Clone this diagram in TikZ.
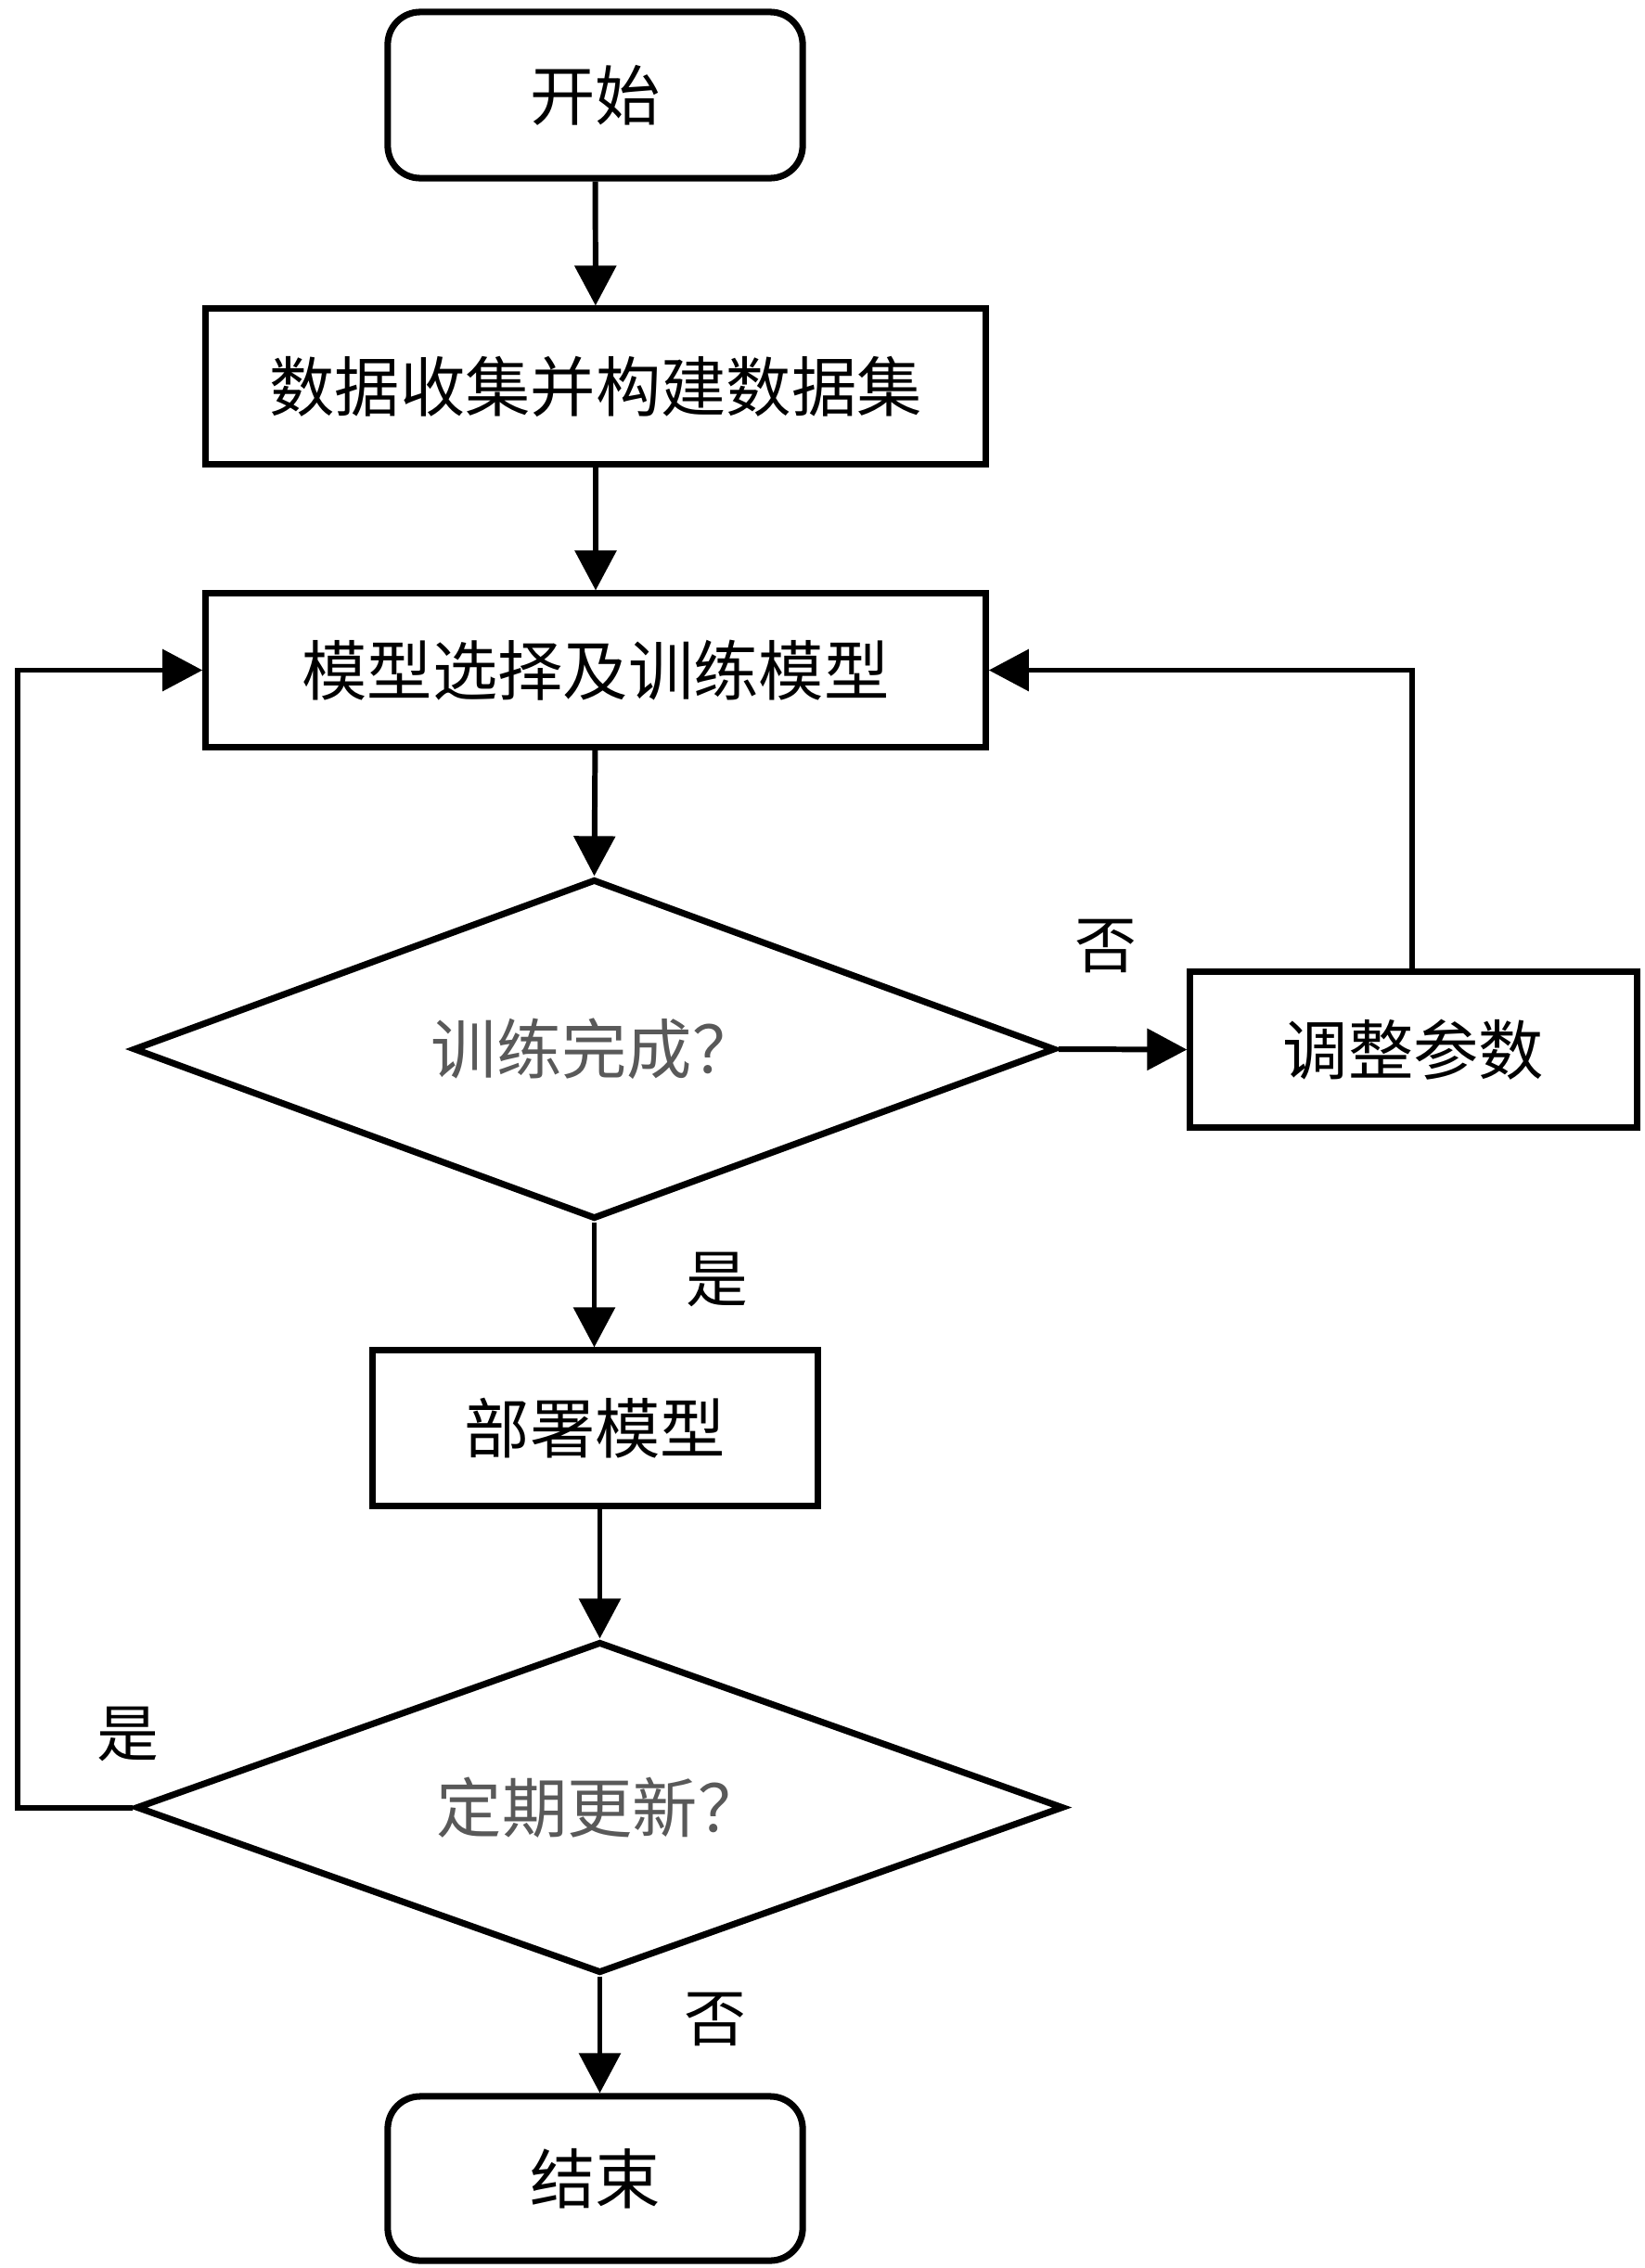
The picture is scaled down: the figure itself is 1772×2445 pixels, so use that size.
\documentclass[tikz,border=0pt]{standalone}
\usepackage{fontspec}
\newfontfamily\cjk{Noto Sans CJK SC}
\usetikzlibrary{shapes.geometric,arrows.meta}
\begin{document}
\begin{tikzpicture}[x=0.01cm,y=-0.01cm,
  every node/.style={font=\cjk\fontsize{20}{24}\selectfont},
  base/.style={draw=black,line width=2pt,inner sep=0pt,fill=white},
  term/.style={base,rectangle,rounded corners=0.35cm},
  proc/.style={base,rectangle},
  decide/.style={base,diamond,aspect=2.7,text=black!65},
  lbl/.style={font=\cjk\fontsize{19}{22}\selectfont},
  conn/.style={line width=1.7pt,-{Triangle[length=4.3mm,width=4.4mm]}},
  plain/.style={line width=1.7pt}]
\useasboundingbox (0,0) rectangle (1772,2445);
\node[term,minimum width=4.47cm,minimum height=1.79cm] (start) at (641.5,102.5) {开始};
\node[proc,minimum width=8.40cm,minimum height=1.67cm] (data) at (642,416.5) {数据收集并构建数据集};
\node[proc,minimum width=8.40cm,minimum height=1.65cm] (model) at (642,722.5) {模型选择及训练模型};
\node[decide,minimum width=9.93cm,minimum height=3.66cm] (d1) at (640.5,1131) {训练完成？};
\node[proc,minimum width=4.81cm,minimum height=1.67cm] (adjust) at (1523.5,1131.5) {调整参数};
\node[proc,minimum width=4.79cm,minimum height=1.67cm] (deploy) at (641.5,1539.5) {部署模型};
\node[decide,minimum width=9.99cm,minimum height=3.57cm] (d2) at (646.5,1948.5) {定期更新？};
\node[term,minimum width=4.47cm,minimum height=1.77cm] (end) at (641.5,2348.5) {结束};
\coordinate (lx) at (19,0);
\coordinate (rx) at (1522,0);
\draw[conn] (start) -- (data);
\draw[conn] (data) -- (model);
\draw[conn] (model) -- (d1.north);
\draw[conn] (d1.east) -- (adjust.west);
\draw[conn] (adjust.north -| rx) |- (model.east);
\draw[conn] (d1.south) -- (deploy.north -| d1.south);
\draw[conn] (deploy.south -| d2.north) -- (d2.north);
\draw[conn] (d2.south) -- (d2.south |- end.north);
\draw[conn] (d2.west) -| (lx |- model.west) -- (model.west);
\node[lbl] (n1) at (1192,1020) {否};
\node[lbl] (y1) at (773,1379) {是};
\node[lbl] (y2) at (138,1869) {是};
\node[lbl] (n2) at (771,2177) {否};
\end{tikzpicture}
\end{document}
